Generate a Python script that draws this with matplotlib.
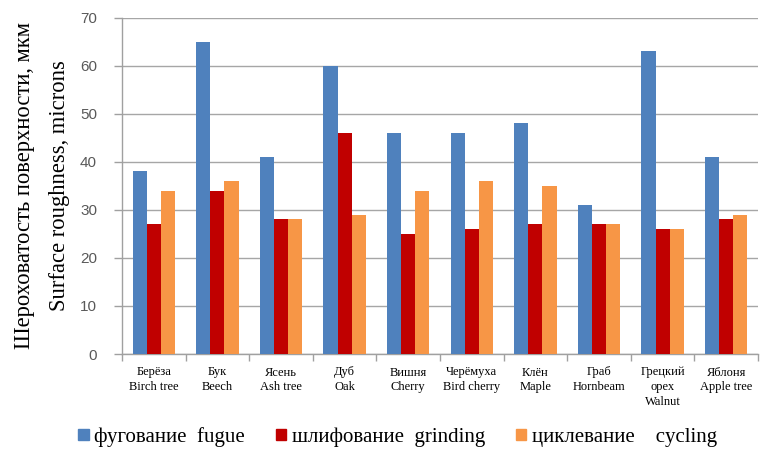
import numpy as np
import matplotlib
matplotlib.use("Agg")
import matplotlib.pyplot as plt
from matplotlib.patches import Patch

# --- Données ---
categories = ["Берёза\nBirch tree", "Бук\nBeech", "Ясень\nAsh tree", "Дуб\nOak",
              "Вишня\nCherry", "Черёмуха\nBird cherry", "Клён\nMaple", "Граб\nHornbeam",
              "Грецкий\nорех\nWalnut", "Яблоня\nApple tree"]
fugue = [38, 65, 41, 60, 46, 46, 48, 31, 63, 41]
grinding = [27, 34, 28, 46, 25, 26, 27, 27, 26, 28]
cycling = [34, 36, 28, 29, 34, 36, 35, 27, 26, 29]
series_labels = ["фугование  fugue", "шлифование  grinding", "циклевание    cycling"]
y_ticks = [0, 10, 20, 30, 40, 50, 60, 70]

couleurs = ["#4F81BD", "#C00000", "#F79646"]

fig = plt.figure(figsize=(7.63, 4.5), dpi=100)
ax = fig.add_axes([122 / 763, (450 - 354) / 450, (758 - 122) / 763, (354 - 17.5) / 450])

x = np.arange(len(categories))
w = 0.222
for i, (vals, c) in enumerate(zip([fugue, grinding, cycling], couleurs)):
    ax.bar(x + (i - 1) * w, vals, width=w, color=c, zorder=3)

ax.set_xlim(-0.5, len(categories) - 0.5)
ax.set_ylim(0, 70)
ax.set_yticks(y_ticks)
ax.tick_params(axis="y", labelsize=11, labelcolor="#595959", color="#A0A0A0",
               length=6, width=1, pad=12)
for lab in ax.get_yticklabels():
    lab.set_family("Liberation Sans")

ax.set_xticks(x)
ax.set_xticklabels(categories, family="Liberation Serif", fontsize=9, linespacing=1.3)
ax.tick_params(axis="x", length=0, pad=9)
ax.set_xticks(np.arange(-0.5, len(categories) + 0.5, 1), minor=True)
ax.tick_params(axis="x", which="minor", length=5, color="#A0A0A0", width=1)

ax.grid(axis="y", color="#A6A6A6", linewidth=1, zorder=0)
for s in ["top", "right"]:
    ax.spines[s].set_visible(False)
for s in ["left", "bottom"]:
    ax.spines[s].set_color("#A0A0A0")
    ax.spines[s].set_linewidth(1)

ax.set_ylabel("Шероховатость поверхности, мкм\nSurface roughness, microns",
              family="Liberation Serif", fontsize=16.3, linespacing=1.9, labelpad=7)

handles = [Patch(color=c) for c in couleurs]
fig.legend(handles, series_labels, loc="center", bbox_to_anchor=(0.521, 13 / 450),
           ncol=3, frameon=False, prop={"family": "Liberation Serif", "size": 15},
           handlelength=0.5, handleheight=0.42, handletextpad=0.25, columnspacing=1.5)

fig.savefig("out.png", dpi=100)
